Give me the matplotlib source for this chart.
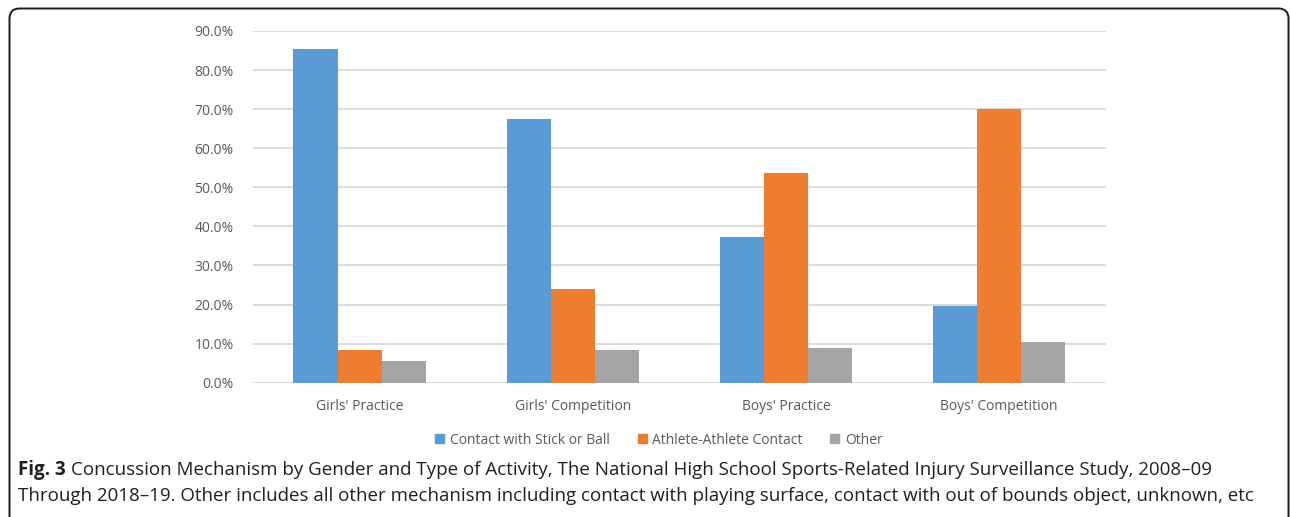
import numpy as np
import matplotlib
matplotlib.use("Agg")
import matplotlib.pyplot as plt
from matplotlib.patches import FancyBboxPatch, Patch
from matplotlib.ticker import PercentFormatter

categories = ["Girls' Practice", "Girls' Competition", "Boys' Practice", "Boys' Competition"]
series_names = ["Contact with Stick or Ball", "Athlete-Athlete Contact", "Other"]
stick_ball = [85.5, 67.5, 37.3, 19.5]
athlete = [8.4, 24.0, 53.7, 70.0]
other = [5.6, 8.4, 8.9, 10.3]
colors = ["#5b9bd5", "#ed7d31", "#a5a5a5"]

caption_bold = "Fig. 3"
caption_1 = "Concussion Mechanism by Gender and Type of Activity, The National High School Sports-Related Injury Surveillance Study, 2008\u201309"
caption_2 = "Through 2018\u201319. Other includes all other mechanism including contact with playing surface, contact with out of bounds object, unknown, etc"

plt.rcParams['font.family'] = ['Open Sans', 'DejaVu Sans']

W, H = 1290, 517
fig = plt.figure(figsize=(W / 100, H / 100), dpi=100)

# overlay in pixel units for the rounded frame
bg = fig.add_axes([0, 0, 1, 1])
bg.set_xlim(0, W)
bg.set_ylim(H, 0)
bg.axis("off")
frame = FancyBboxPatch((9.5, 8.5), 1279, 540, boxstyle="round,pad=0,rounding_size=10",
                       fill=False, edgecolor="#1a1a1a", linewidth=1.4)
bg.add_patch(frame)

ax = fig.add_axes([253 / W, 1 - 382.7 / H, (1105.7 - 253) / W, (382.7 - 31) / H])

x = np.arange(len(categories))
bw = 0.207
for i, (vals, name) in enumerate(zip([stick_ball, athlete, other], series_names)):
    ax.bar(x + (i - 1) * bw, np.array(vals) / 100, width=bw, color=colors[i],
           label=name, zorder=3)

ax.set_xlim(-0.5, len(categories) - 0.5)
ax.set_ylim(0, 0.9)
ax.set_yticks(np.arange(0, 0.91, 0.1))
ax.yaxis.set_major_formatter(PercentFormatter(1.0, decimals=1))
ax.set_xticks(x)
ax.set_xticklabels(categories)
ax.grid(axis="y", color="#d9d9d9", linewidth=1.3, zorder=0)
for s in ax.spines.values():
    s.set_visible(False)
ax.tick_params(axis="both", length=0, labelsize=10, labelcolor="#595959")
ax.tick_params(axis="x", pad=12)
ax.tick_params(axis="y", pad=14)

handles = [Patch(color=c) for c in colors]
fig.legend(handles, series_names, loc="center", bbox_to_anchor=(659 / W, 1 - 440 / H),
           ncol=3, frameon=False, fontsize=10, labelcolor="#595959",
           handlelength=0.65, handleheight=0.65, handletextpad=0.4, columnspacing=2.0)

# caption
fs = 13.5
t = fig.text(18 / W, 1 - 470 / H, caption_bold, fontsize=fs, fontweight="bold",
             va="center", color="#231f20")
r = fig.canvas.get_renderer()
bb = t.get_window_extent(renderer=r)
fig.text((bb.x1 + 5) / W, 1 - 470 / H, caption_1, fontsize=fs, va="center", color="#231f20")
fig.text(18 / W, 1 - 496 / H, caption_2, fontsize=fs, va="center", color="#231f20")

fig.savefig("out.png", dpi=100)
